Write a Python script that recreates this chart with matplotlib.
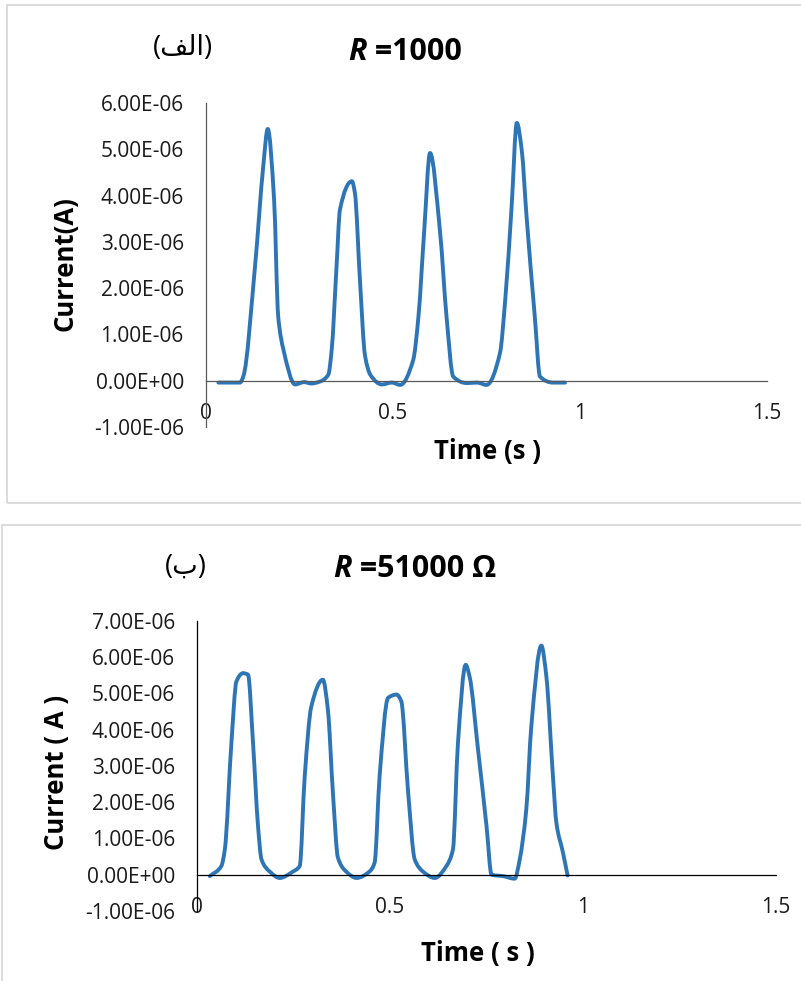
import numpy as np
import matplotlib
matplotlib.use("Agg")
import matplotlib.pyplot as plt
from matplotlib.path import Path
from matplotlib.patches import PathPatch, Rectangle
from matplotlib.ticker import FuncFormatter, MultipleLocator

plt.rcParams["font.family"] = ["Open Sans", "DejaVu Sans"]

# Current pulses, R = 1000 (time in s, current in uA)
t_1000 = [0.033, 0.091, 0.100, 0.131, 0.153, 0.165, 0.182, 0.193, 0.207, 0.238,
          0.262, 0.282, 0.300, 0.327, 0.336, 0.349, 0.358, 0.390, 0.398, 0.412,
          0.425, 0.440, 0.470, 0.497, 0.519, 0.554, 0.568, 0.583, 0.599, 0.626,
          0.643, 0.661, 0.697, 0.725, 0.750, 0.786, 0.800, 0.817, 0.831, 0.844,
          0.857, 0.879, 0.893, 0.928, 0.960]
i_1000 = [-0.04, -0.04, 0.10, 2.47, 4.63, 5.44, 3.91, 1.39, 0.67, -0.08,
          -0.03, -0.06, -0.03, 0.13, 0.67, 2.47, 3.69, 4.31, 4.06, 2.11,
          0.55, 0.12, -0.08, -0.04, -0.09, 0.45, 1.39, 3.19, 4.92, 3.19,
          1.39, 0.09, -0.05, -0.04, -0.09, 0.60, 1.75, 3.75, 5.57, 4.99,
          3.55, 1.39, 0.09, -0.04, -0.04]

# Current pulses, R = 51000 ohm
t_51000 = [0.033, 0.063, 0.072, 0.089, 0.102, 0.119, 0.132, 0.145, 0.158, 0.167,
           0.188, 0.214, 0.249, 0.266, 0.279, 0.296, 0.326, 0.339, 0.352, 0.365,
           0.386, 0.413, 0.447, 0.460, 0.473, 0.495, 0.517, 0.529, 0.547, 0.564,
           0.585, 0.616, 0.646, 0.663, 0.676, 0.696, 0.706, 0.728, 0.750, 0.763,
           0.793, 0.823, 0.836, 0.853, 0.866, 0.892, 0.905, 0.922, 0.931, 0.948,
           0.960]
i_51000 = [-0.04, 0.24, 0.70, 3.64, 5.33, 5.56, 5.52, 3.64, 1.34, 0.42,
           0.09, -0.09, 0.09, 0.24, 2.72, 4.64, 5.38, 4.55, 2.26, 0.47,
           0.09, -0.09, 0.09, 0.33, 2.72, 4.88, 4.97, 4.79, 2.26, 0.42,
           0.09, -0.09, 0.24, 0.70, 3.64, 5.79, 5.47, 3.45, 1.34, 0.00,
           -0.04, -0.11, 0.42, 1.80, 4.09, 6.32, 5.47, 2.72, 1.43, 0.61,
           -0.02]

x_ticks = [0, 0.5, 1, 1.5]
x_tick_labels = ["0", "0.5", "1", "1.5"]

LINE_BLUE = "#2e75b6"


def smooth_path(x, y):
    # smoothed line through the points: monotone cubic (Fritsch-Carlson) as Beziers
    x = np.asarray(x, float)
    y = np.asarray(y, float)
    h = np.diff(x)
    d = np.diff(y) / h
    m = np.zeros_like(y)
    m[0], m[-1] = d[0], d[-1]
    for k in range(1, len(x) - 1):
        if d[k - 1] * d[k] > 0:
            w1 = 2 * h[k] + h[k - 1]
            w2 = h[k] + 2 * h[k - 1]
            m[k] = (w1 + w2) / (w1 / d[k - 1] + w2 / d[k])
    verts = [(x[0], y[0])]
    codes = [Path.MOVETO]
    for k in range(len(x) - 1):
        verts += [(x[k] + h[k] / 3, y[k] + m[k] * h[k] / 3),
                  (x[k + 1] - h[k] / 3, y[k + 1] - m[k + 1] * h[k] / 3),
                  (x[k + 1], y[k + 1])]
        codes += [Path.CURVE4] * 3
    return Path(verts, codes)


def sci_fmt(v, pos):
    return "{:.2E}".format(v)


def draw_panel(ax, t, cur, ymax, spine_color):
    y = np.array(cur) * 1e-6
    ax.add_patch(PathPatch(smooth_path(t, y), fill=False, edgecolor=LINE_BLUE,
                           lw=2.8, capstyle="round", joinstyle="round"))
    ax.set_xlim(0, 1.5)
    ax.set_ylim(-1e-6, ymax)
    ax.yaxis.set_major_locator(MultipleLocator(1e-6))
    ax.yaxis.set_major_formatter(FuncFormatter(sci_fmt))
    ax.set_xticks(x_ticks)
    ax.set_xticklabels(x_tick_labels)
    for side in ["top", "right"]:
        ax.spines[side].set_visible(False)
    ax.spines["left"].set_position(("data", 0))
    ax.spines["bottom"].set_position(("data", 0))
    for side in ["left", "bottom"]:
        ax.spines[side].set_color(spine_color)
        ax.spines[side].set_linewidth(0.9)
    ax.tick_params(axis="both", length=0, labelsize=15, colors="#1a1a1a")
    ax.tick_params(axis="y", pad=16)
    ax.tick_params(axis="x", pad=16)
    ax.patch.set_alpha(0)


fig = plt.figure(figsize=(8.01, 9.81), dpi=100)

# chart frames
fig.patches.append(Rectangle((0.0087, 0.4873), 1.1, 0.5076, transform=fig.transFigure,
                             fill=False, edgecolor="#d9d9d9", lw=1.3))
fig.patches.append(Rectangle((0.002, -0.1), 1.1, 0.5648, transform=fig.transFigure,
                             fill=False, edgecolor="#d9d9d9", lw=1.3))

# top panel
ax1 = fig.add_axes([0.2572, 0.5647, 0.7004, 0.3303])
draw_panel(ax1, t_1000, i_1000, 6e-6, "#595959")
ax1.set_xlabel("Time (s )", fontsize=18.5, fontweight="bold", va="center")
ax1.xaxis.set_label_coords(0.501, -0.074)
ax1.set_ylabel("Current(A)", fontsize=18.5, fontweight="bold", va="center", ha="center")
ax1.yaxis.set_label_coords(-0.251, 0.503)

r1 = fig.text(348 / 801, 1 - 60 / 981, "R", fontsize=22, fontweight="bold",
              style="italic", ha="left", va="baseline")
ax1.annotate(" =1000", xy=(1, 0), xycoords=r1, fontsize=22, fontweight="bold",
             ha="left", va="bottom", annotation_clip=False)
fig.text(183 / 801, 1 - 48 / 981, "(\ufed2\ufedf\ufe8d)", fontsize=19.5,
         ha="center", va="center")

# bottom panel
ax2 = fig.add_axes([0.246, 0.0714, 0.7228, 0.2956])
draw_panel(ax2, t_51000, i_51000, 7e-6, "#000000")
ax2.set_xlabel("Time ( s )", fontsize=18.5, fontweight="bold", va="center")
ax2.xaxis.set_label_coords(0.485, -0.145)
ax2.set_ylabel("Current ( A )", fontsize=18.5, fontweight="bold", va="center", ha="center")
ax2.yaxis.set_label_coords(-0.242, 0.479)

r2 = fig.text(333 / 801, 1 - 577 / 981, "R", fontsize=22, fontweight="bold",
              style="italic", ha="left", va="baseline")
ax2.annotate(" =51000 \u03a9", xy=(1, 0), xycoords=r2, fontsize=22, fontweight="bold",
             ha="left", va="bottom", annotation_clip=False)
fig.text(186 / 801, 1 - 567 / 981, "(\ufe8f)", fontsize=19.5,
         ha="center", va="center")

fig.savefig("out.png", dpi=100)
